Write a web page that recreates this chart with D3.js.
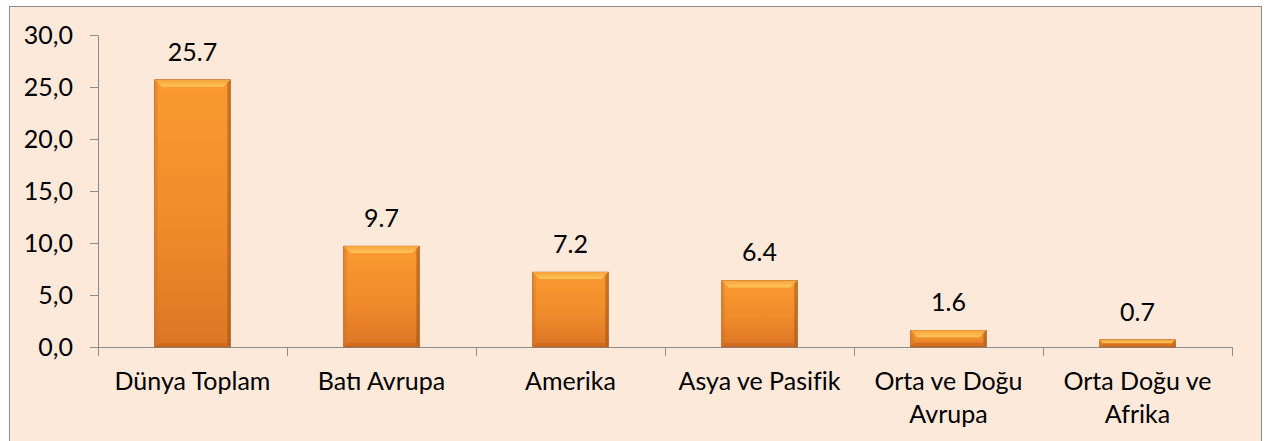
<!DOCTYPE html>
<html lang="tr">
<head>
<meta charset="utf-8"/>
<title>Bar chart</title>
<script src="https://cdn.jsdelivr.net/npm/d3@7"></script>
<style>
  body { margin: 0; background: #fff; }
  text { font-family: Lato, "Open Sans", sans-serif; fill: #000; }
</style>
</head>
<body>
<div id="chart"></div>
<script>
// chart data
var categories = [["Dünya Toplam"], ["Batı Avrupa"], ["Amerika"], ["Asya ve Pasifik"], ["Orta ve Doğu", "Avrupa"], ["Orta Doğu ve", "Afrika"]];
var values = [25.7, 9.7, 7.2, 6.4, 1.6, 0.7];
var yTicks = [0, 5, 10, 15, 20, 25, 30];

var W = 1266, H = 441;
var margin = {left: 98, right: 34, top: 35, bottom: 94};
var fontSize = "25px";

var svg = d3.select("#chart").append("svg")
  .attr("width", W)
  .attr("height", H);

// gradients for the bars
var defs = svg.append("defs");
var grad = defs.append("linearGradient").attr("id", "barGrad")
  .attr("x1", 0).attr("y1", 0).attr("x2", 0).attr("y2", 1);
grad.append("stop").attr("offset", "0%").attr("stop-color", "#FB9A30");
grad.append("stop").attr("offset", "55%").attr("stop-color", "#F08B2B");
grad.append("stop").attr("offset", "100%").attr("stop-color", "#DD7524");
var topGrad = defs.append("linearGradient").attr("id", "topGrad")
  .attr("x1", 0).attr("y1", 0).attr("x2", 0).attr("y2", 1);
topGrad.append("stop").attr("offset", "0%").attr("stop-color", "#F7A23A");
topGrad.append("stop").attr("offset", "100%").attr("stop-color", "#FFC65A");

// chart area background + border
svg.append("rect")
  .attr("x", 9.5).attr("y", 6.5)
  .attr("width", 1252).attr("height", 440)
  .attr("fill", "#FDE9DA")
  .attr("stroke", "#8C8C8C")
  .attr("stroke-width", 1);

var x = d3.scaleBand()
  .domain(d3.range(categories.length))
  .range([margin.left, W - margin.right])
  .paddingInner(0.6)
  .paddingOuter(0.3);

var y = d3.scaleLinear()
  .domain([0, 30])
  .range([H - margin.bottom, margin.top]);

// y axis
var yAxis = svg.append("g")
  .attr("transform", "translate(" + margin.left + ",0)")
  .call(d3.axisLeft(y).tickValues(yTicks).tickSize(8).tickPadding(17)
    .tickFormat(function(d) { return d3.format(".1f")(d).replace(".", ","); }));
yAxis.selectAll("line, path").attr("stroke", "#8C8C8C");
yAxis.selectAll("text")
  .style("font-size", fontSize)
  .style("font-family", "Lato, 'Open Sans', sans-serif")
  .attr("fill", "#000")
  .attr("dy", "0.35em");

// x axis line and category ticks
var step = x.step();
var xg = svg.append("g");
xg.append("line")
  .attr("x1", margin.left).attr("x2", W - margin.right)
  .attr("y1", y(0) + 0.5).attr("y2", y(0) + 0.5)
  .attr("stroke", "#8C8C8C");
xg.selectAll(".tick")
  .data(d3.range(categories.length + 1))
  .enter().append("line")
  .attr("x1", function(i) { return margin.left + i * step + 0.5; })
  .attr("x2", function(i) { return margin.left + i * step + 0.5; })
  .attr("y1", y(0)).attr("y2", y(0) + 9)
  .attr("stroke", "#8C8C8C");

// bars
var bars = svg.selectAll(".bar")
  .data(values)
  .enter().append("g")
  .attr("class", "bar");

bars.append("rect")
  .attr("x", function(d, i) { return x(i); })
  .attr("y", function(d) { return y(d); })
  .attr("width", x.bandwidth())
  .attr("height", function(d) { return y(0) - y(d); })
  .attr("fill", "url(#barGrad)")
  .attr("stroke", "#A9561A")
  .attr("stroke-width", 0.7);

// bevel edges
function bevelSize(d, max) { return Math.min(max, (y(0) - y(d)) / 2); }
// top (light)
bars.append("path")
  .attr("d", function(d, i) {
    var x0 = x(i), x1 = x(i) + x.bandwidth(), y0 = y(d), b = bevelSize(d, 7);
    return "M" + x0 + "," + y0 + "L" + x1 + "," + y0 + "L" + (x1 - b) + "," + (y0 + b) + "L" + (x0 + b) + "," + (y0 + b) + "Z";
  })
  .attr("fill", "url(#topGrad)");
// bottom (dark)
bars.append("path")
  .attr("d", function(d, i) {
    var x0 = x(i), x1 = x(i) + x.bandwidth(), yb = y(0), b = bevelSize(d, 4);
    return "M" + x0 + "," + yb + "L" + x1 + "," + yb + "L" + (x1 - b) + "," + (yb - b) + "L" + (x0 + b) + "," + (yb - b) + "Z";
  })
  .attr("fill", "#B8601C")
  .attr("opacity", 0.45);
// right (dark)
bars.append("path")
  .attr("d", function(d, i) {
    var x1 = x(i) + x.bandwidth(), y0 = y(d), yb = y(0), b = bevelSize(d, 3);
    return "M" + x1 + "," + y0 + "L" + x1 + "," + yb + "L" + (x1 - b) + "," + (yb - b) + "L" + (x1 - b) + "," + (y0 + b) + "Z";
  })
  .attr("fill", "#8F4712")
  .attr("opacity", 0.45);
// left (slightly dark)
bars.append("path")
  .attr("d", function(d, i) {
    var x0 = x(i), y0 = y(d), yb = y(0), b = bevelSize(d, 3);
    return "M" + x0 + "," + y0 + "L" + x0 + "," + yb + "L" + (x0 + b) + "," + (yb - b) + "L" + (x0 + b) + "," + (y0 + b) + "Z";
  })
  .attr("fill", "#C96A1E")
  .attr("opacity", 0.3);

// value labels
bars.append("text")
  .attr("x", function(d, i) { return x(i) + x.bandwidth() / 2; })
  .attr("y", function(d) { return y(d) - 19; })
  .attr("text-anchor", "middle")
  .style("font-size", fontSize)
  .text(function(d) { return d.toFixed(1); });

// category labels
var cl = svg.selectAll(".cat")
  .data(categories)
  .enter().append("text")
  .attr("class", "cat")
  .attr("x", function(d, i) { return x(i) + x.bandwidth() / 2; })
  .attr("y", y(0) + 43)
  .attr("text-anchor", "middle")
  .style("font-size", fontSize);
cl.selectAll("tspan")
  .data(function(d) { return d; })
  .enter().append("tspan")
  .attr("x", function() { return d3.select(this.parentNode).attr("x"); })
  .attr("dy", function(d, i) { return i === 0 ? 0 : 33; })
  .text(function(d) { return d; });
</script>
</body>
</html>
